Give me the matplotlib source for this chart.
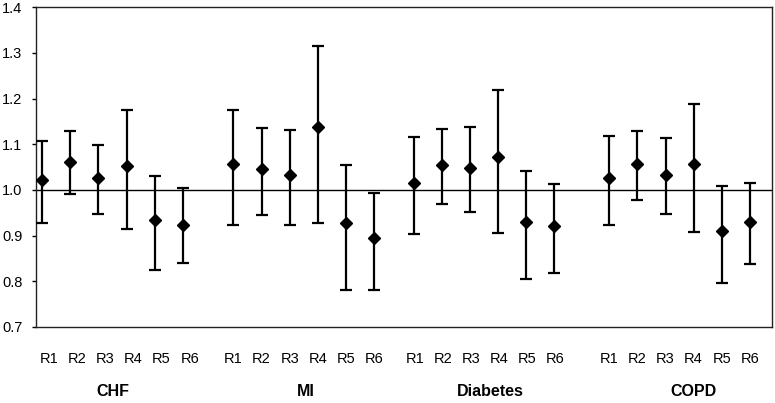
import numpy as np
import matplotlib
matplotlib.use("Agg")
import matplotlib.pyplot as plt
import matplotlib.transforms as mtransforms

plt.rcParams['font.family'] = ['Liberation Sans', 'DejaVu Sans']

# data
groups = ["CHF", "MI", "Diabetes", "COPD"]
sub_labels = ["R1", "R2", "R3", "R4", "R5", "R6"]

estimate = {
    "CHF":      [1.021, 1.060, 1.025, 1.052, 0.934, 0.922],
    "MI":       [1.057, 1.045, 1.033, 1.137, 0.927, 0.895],
    "Diabetes": [1.014, 1.054, 1.049, 1.073, 0.930, 0.921],
    "COPD":     [1.026, 1.057, 1.033, 1.056, 0.909, 0.930],
}
upper = {
    "CHF":      [1.107, 1.128, 1.099, 1.176, 1.031, 1.004],
    "MI":       [1.174, 1.135, 1.131, 1.316, 1.055, 0.994],
    "Diabetes": [1.115, 1.134, 1.137, 1.218, 1.042, 1.013],
    "COPD":     [1.118, 1.129, 1.113, 1.187, 1.009, 1.015],
}
lower = {
    "CHF":      [0.928, 0.990, 0.948, 0.914, 0.824, 0.839],
    "MI":       [0.923, 0.946, 0.923, 0.928, 0.780, 0.781],
    "Diabetes": [0.903, 0.968, 0.951, 0.905, 0.805, 0.818],
    "COPD":     [0.924, 0.977, 0.947, 0.908, 0.797, 0.837],
}

# layout: where each group starts on the x axis, label nudges, group name spots
group_start = [0.21, 7.02, 13.44, 20.41]
tick_nudge = [0.25, 0.0, 0.05, 0.0]
group_label_x = [2.73, 9.61, 16.16, 23.40]
step = 1.0

fig = plt.figure(figsize=(7.75, 4.03), dpi=100)
ax = fig.add_axes([0.047, 0.189, 0.949, 0.793])

xticks = []
xticklabels = []
for g, x0, nd in zip(groups, group_start, tick_nudge):
    xs = x0 + step * np.arange(len(sub_labels))
    y = np.array(estimate[g])
    yerr = [y - np.array(lower[g]), np.array(upper[g]) - y]
    ax.errorbar(xs, y, yerr=yerr, fmt="D", color="black", markersize=6.5,
                elinewidth=1.6, capsize=4, capthick=1.6, zorder=3)
    xticks.extend(xs + nd)
    xticklabels.extend(sub_labels)

ax.axhline(1.0, color="black", linewidth=1.0, zorder=2)

ax.set_xlim(0, 26.2)
ax.set_ylim(0.7, 1.4)
ax.set_yticks(np.arange(0.7, 1.41, 0.1))
ax.set_yticklabels(["%.1f" % v for v in np.arange(0.7, 1.41, 0.1)], fontsize=10.5)
ax.set_xticks(xticks)
ax.set_xticklabels(xticklabels, fontsize=10.5)
ax.tick_params(axis="x", length=0, pad=18)
ax.tick_params(axis="y", direction="out", length=3, width=1, pad=7)

for s in ax.spines.values():
    s.set_linewidth(1.0)
    s.set_color("#222222")

trans = mtransforms.blended_transform_factory(ax.transData, ax.transAxes)
for name, lx in zip(groups, group_label_x):
    ax.text(lx, -0.203, name, transform=trans, ha="center", va="center",
            fontsize=11.5, fontweight="bold")

fig.savefig("out.png", dpi=100)
